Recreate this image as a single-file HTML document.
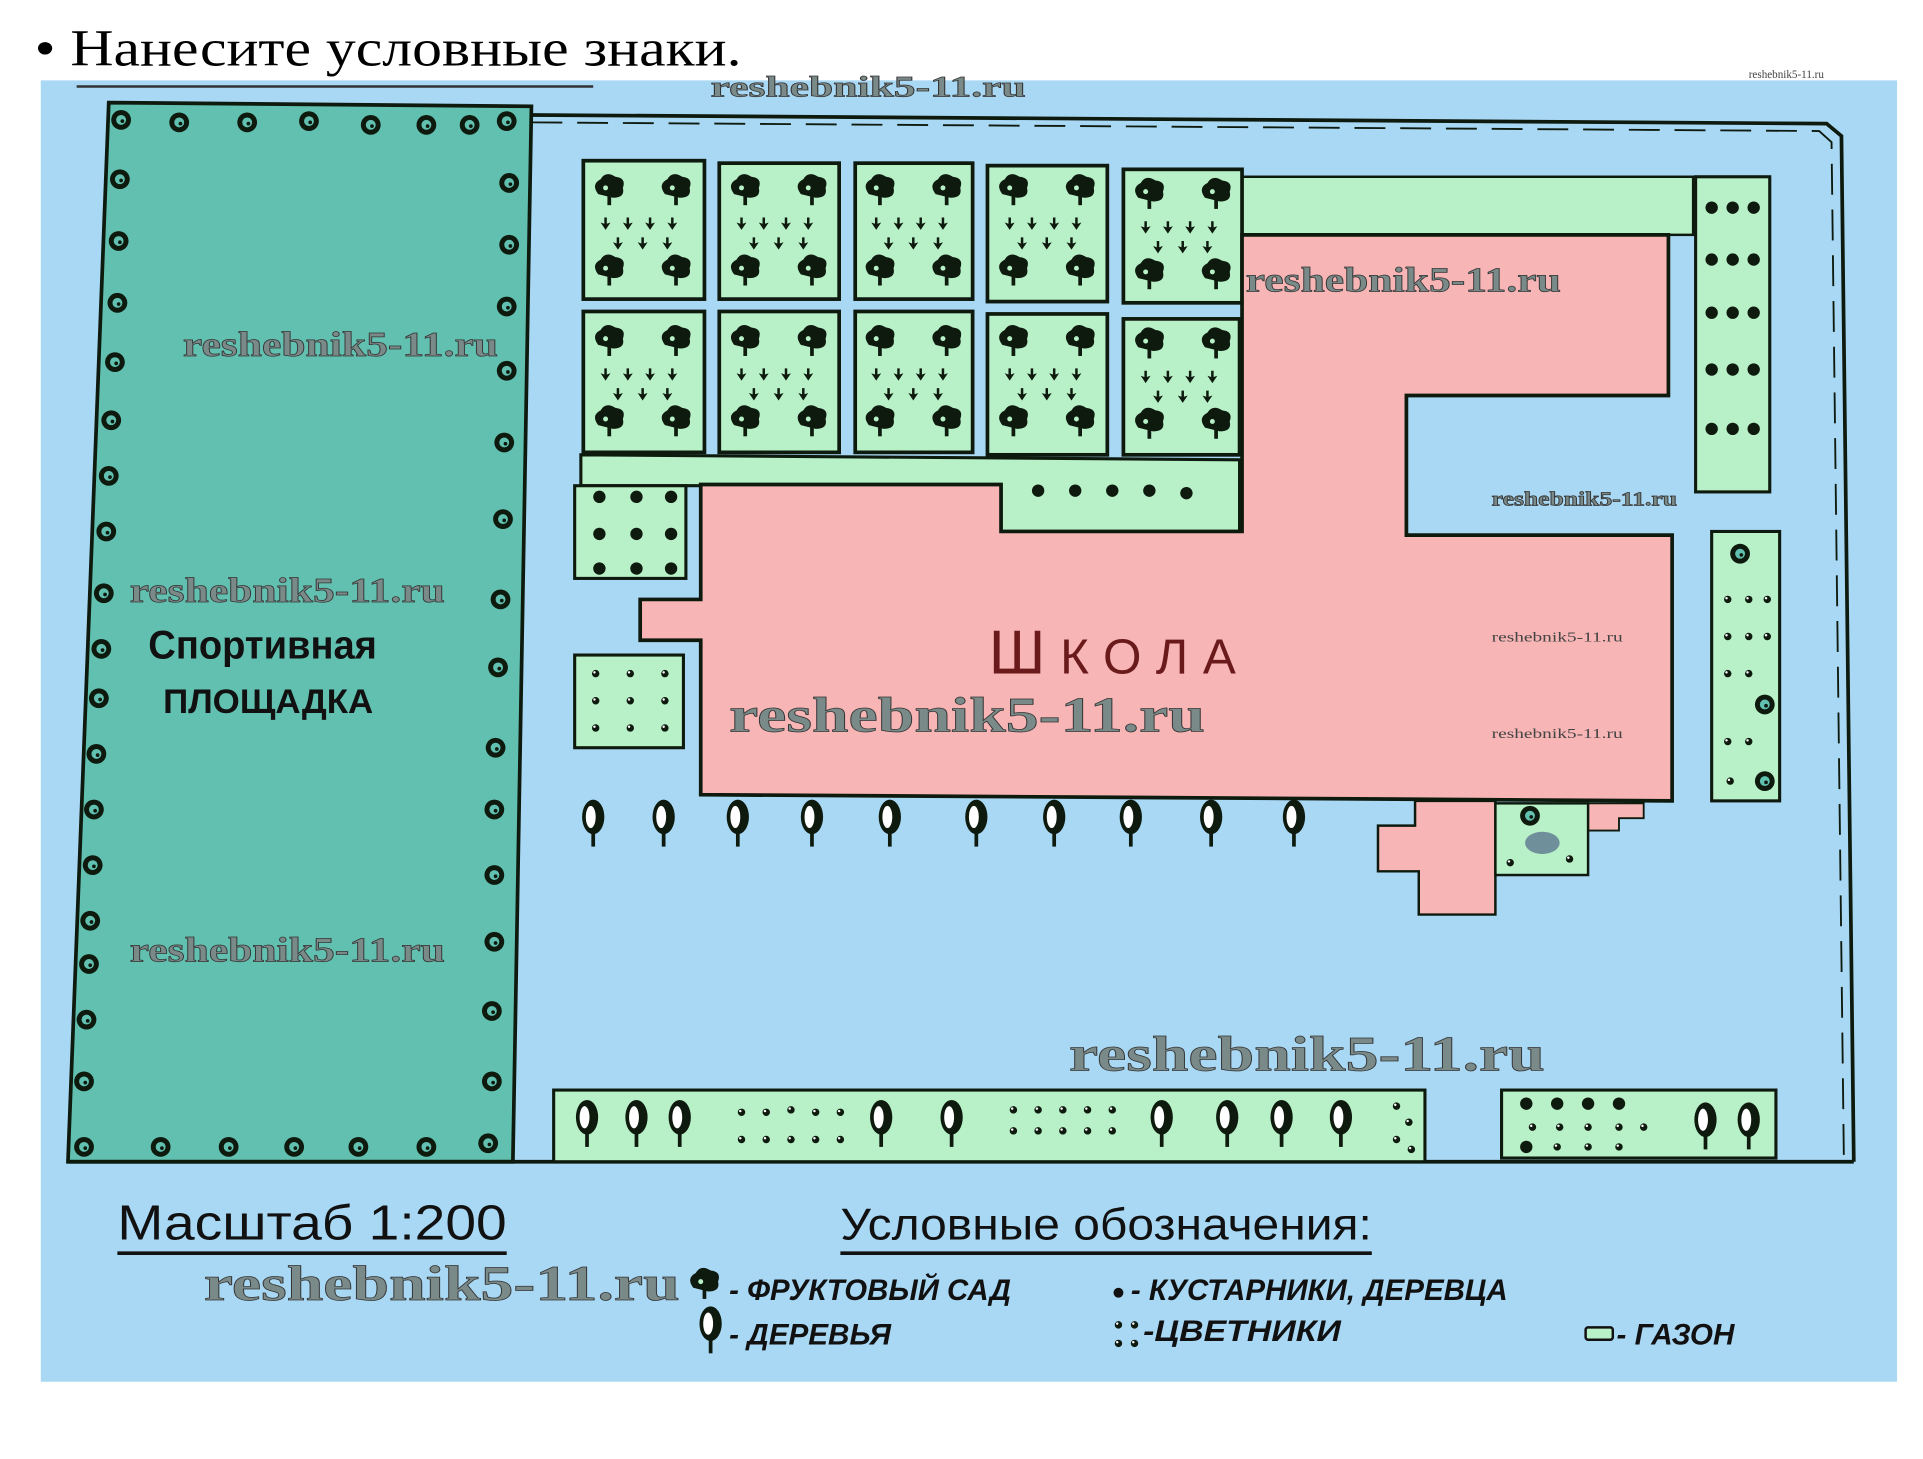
<!DOCTYPE html>
<html><head><meta charset="utf-8"><style>html,body{margin:0;padding:0;background:#fff}svg{display:block}</style></head>
<body>
<svg width="1923" height="1459" viewBox="0 0 1556 1180.5" xmlns="http://www.w3.org/2000/svg">
<defs>
<g id="ft"><path d="M-9,2 q-6,-8 2,-12 q4,-7 12,-2 q9,1 6,9 q2,8 -8,8 z" fill="#0d1a0d"/><rect x="-1.5" y="0" width="3" height="11" fill="#0d1a0d"/><circle cx="-3" cy="-3" r="2" fill="#b8f0c8"/></g>
<g id="ar"><path d="M-1,-6 h2 v5 l3,-1 l-4,6 l-4,-6 l3,1 z" fill="#0d1a0d"/></g>
<g id="tr"><ellipse cx="0" cy="-4" rx="9" ry="14" fill="#0d1a0d"/><ellipse cx="-2" cy="-4" rx="4" ry="9" fill="#fff"/><rect x="-1.5" y="8" width="3" height="12" fill="#0d1a0d"/></g>
<g id="sh"><circle r="5" fill="#0d1a0d"/></g>
<g id="bt"><circle r="8" fill="#0d1a0d"/><circle r="4" fill="#62c0b0"/><circle cx="1" cy="1" r="1.5" fill="#0d1a0d"/></g>
<g id="fl"><circle r="3" fill="#0d1a0d"/><circle cx="-1" cy="-1" r="1" fill="#fff"/></g>
</defs>
<text x="28" y="53" font-family="Liberation Serif, serif" font-size="42" textLength="572" lengthAdjust="spacingAndGlyphs">• Нанесите условные знаки.</text>
<rect x="33" y="65" width="1502" height="1053" fill="#a9d8f5"/>
<line x1="62" y1="70" x2="480" y2="70" stroke="#333" stroke-width="2"/>
<path d="M88,83 L430,86 L415,940 L55,940 Z" fill="#62c0b0" stroke="#0d1a0d" stroke-width="3"/>
<g>
<use href="#bt" x="98" y="97"/><use href="#bt" x="145" y="99"/><use href="#bt" x="200" y="99"/><use href="#bt" x="250" y="98"/><use href="#bt" x="300" y="101"/><use href="#bt" x="345" y="101"/><use href="#bt" x="380" y="101"/><use href="#bt" x="410" y="98"/>
<use href="#bt" x="97" y="145"/><use href="#bt" x="96" y="195"/><use href="#bt" x="95" y="245"/><use href="#bt" x="93" y="293"/><use href="#bt" x="90" y="340"/><use href="#bt" x="88" y="385"/><use href="#bt" x="86" y="430"/><use href="#bt" x="84" y="480"/><use href="#bt" x="82" y="525"/><use href="#bt" x="80" y="565"/><use href="#bt" x="78" y="610"/><use href="#bt" x="76" y="655"/><use href="#bt" x="75" y="700"/><use href="#bt" x="73" y="745"/><use href="#bt" x="72" y="780"/><use href="#bt" x="70" y="825"/><use href="#bt" x="68" y="875"/><use href="#bt" x="68" y="928"/>
<use href="#bt" x="412" y="148"/><use href="#bt" x="412" y="198"/><use href="#bt" x="410" y="248"/><use href="#bt" x="410" y="300"/><use href="#bt" x="408" y="358"/><use href="#bt" x="407" y="420"/><use href="#bt" x="405" y="485"/><use href="#bt" x="403" y="540"/><use href="#bt" x="401" y="605"/><use href="#bt" x="400" y="655"/><use href="#bt" x="400" y="708"/><use href="#bt" x="400" y="762"/><use href="#bt" x="398" y="818"/><use href="#bt" x="398" y="875"/><use href="#bt" x="395" y="925"/>
<use href="#bt" x="130" y="928"/><use href="#bt" x="185" y="928"/><use href="#bt" x="238" y="928"/><use href="#bt" x="290" y="928"/><use href="#bt" x="345" y="928"/>
</g>
<text x="120" y="533" font-family="Liberation Sans, sans-serif" font-size="32" font-weight="bold" fill="#111" textLength="185" lengthAdjust="spacingAndGlyphs">Спортивная</text>
<text x="132" y="577" font-family="Liberation Sans, sans-serif" font-size="28" font-weight="bold" fill="#111" textLength="170" lengthAdjust="spacingAndGlyphs">ПЛОЩАДКА</text>
<path d="M430,93 L1478,100 L1490,110 L1500,940" fill="none" stroke="#0d1a0d" stroke-width="3"/>
<path d="M430,99 L1472,106 L1482,115 L1492,940" fill="none" stroke="#0d1a0d" stroke-width="1.5" stroke-dasharray="25,12"/>
<line x1="55" y1="940" x2="1500" y2="940" stroke="#0d1a0d" stroke-width="3"/>
<rect x="1005" y="143" width="365" height="47" fill="#b8f0c8" stroke="#0d1a0d" stroke-width="2"/>
<path d="M470,368 L1003,372 L1003,430 L810,430 L810,393 L470,393 Z" fill="#b8f0c8" stroke="#0d1a0d" stroke-width="2.5"/>
<g><use href="#sh" x="840" y="397"/><use href="#sh" x="870" y="397"/><use href="#sh" x="900" y="397"/><use href="#sh" x="930" y="397"/><use href="#sh" x="960" y="399"/></g>
<rect x="1372" y="143" width="60" height="255" fill="#b8f0c8" stroke="#0d1a0d" stroke-width="2.5"/>
<g><use href="#sh" x="1385" y="168"/><use href="#sh" x="1402" y="168"/><use href="#sh" x="1419" y="168"/><use href="#sh" x="1385" y="210"/><use href="#sh" x="1402" y="210"/><use href="#sh" x="1419" y="210"/><use href="#sh" x="1385" y="253"/><use href="#sh" x="1402" y="253"/><use href="#sh" x="1419" y="253"/><use href="#sh" x="1385" y="299"/><use href="#sh" x="1402" y="299"/><use href="#sh" x="1419" y="299"/><use href="#sh" x="1385" y="347"/><use href="#sh" x="1402" y="347"/><use href="#sh" x="1419" y="347"/></g>
<rect x="1385" y="430" width="55" height="218" fill="#b8f0c8" stroke="#0d1a0d" stroke-width="2.5"/>
<g><use href="#bt" x="1408" y="448"/><use href="#fl" x="1398" y="485"/><use href="#fl" x="1415" y="485"/><use href="#fl" x="1430" y="485"/><use href="#fl" x="1398" y="515"/><use href="#fl" x="1415" y="515"/><use href="#fl" x="1430" y="515"/><use href="#fl" x="1398" y="545"/><use href="#fl" x="1415" y="545"/><use href="#bt" x="1428" y="570"/><use href="#fl" x="1398" y="600"/><use href="#fl" x="1415" y="600"/><use href="#bt" x="1428" y="632"/><use href="#fl" x="1400" y="632"/></g>
<rect x="465" y="393" width="90" height="75" fill="#b8f0c8" stroke="#0d1a0d" stroke-width="2.5"/>
<g><use href="#sh" x="485" y="402"/><use href="#sh" x="515" y="402"/><use href="#sh" x="543" y="402"/><use href="#sh" x="485" y="432"/><use href="#sh" x="515" y="432"/><use href="#sh" x="543" y="432"/><use href="#sh" x="485" y="460"/><use href="#sh" x="515" y="460"/><use href="#sh" x="543" y="460"/></g>
<rect x="465" y="530" width="88" height="75" fill="#b8f0c8" stroke="#0d1a0d" stroke-width="2.5"/>
<g><use href="#fl" x="482" y="545"/><use href="#fl" x="510" y="545"/><use href="#fl" x="538" y="545"/><use href="#fl" x="482" y="567"/><use href="#fl" x="510" y="567"/><use href="#fl" x="538" y="567"/><use href="#fl" x="482" y="589"/><use href="#fl" x="510" y="589"/><use href="#fl" x="538" y="589"/></g>
<g fill="#b8f0c8" stroke="#0d1a0d" stroke-width="3">
<rect x="472" y="130" width="98" height="112"/><rect x="582" y="132" width="97" height="110"/><rect x="692" y="132" width="95" height="110"/><rect x="799" y="134" width="97" height="110"/><rect x="909" y="137" width="96" height="108"/>
<rect x="472" y="252" width="98" height="114"/><rect x="582" y="252" width="97" height="114"/><rect x="692" y="252" width="95" height="114"/><rect x="799" y="254" width="97" height="114"/><rect x="909" y="258" width="94" height="110"/>
</g>
<g id="orc">
<use href="#ft" x="493" y="155"/><use href="#ft" x="547" y="155"/><use href="#ft" x="493" y="220"/><use href="#ft" x="547" y="220"/>
<use href="#ar" x="490" y="182"/><use href="#ar" x="508" y="182"/><use href="#ar" x="526" y="182"/><use href="#ar" x="544" y="182"/><use href="#ar" x="500" y="198"/><use href="#ar" x="520" y="198"/><use href="#ar" x="540" y="198"/>
</g>
<use href="#orc" x="110"/><use href="#orc" x="219"/><use href="#orc" x="327"/><use href="#orc" x="437" y="3"/>
<use href="#orc" y="122"/><use href="#orc" x="110" y="122"/><use href="#orc" x="219" y="122"/><use href="#orc" x="327" y="122"/><use href="#orc" x="437" y="124"/>
<path d="M567,392 L810,392 L810,430 L1005,430 L1005,190 L1350,190 L1350,320 L1138,320 L1138,433 L1353,433 L1353,648 L567,643 L567,518 L518,518 L518,485 L567,485 Z" fill="#f7b5b5" stroke="#0d1a0d" stroke-width="3"/>
<path d="M1145,648 L1210,648 L1210,740 L1148,740 L1148,705 L1115,705 L1115,668 L1145,668 Z" fill="#f7b5b5" stroke="#0d1a0d" stroke-width="2"/>
<path d="M1285,650 L1330,650 L1330,662 L1310,662 L1310,672 L1285,672 Z" fill="#f7b5b5" stroke="#0d1a0d" stroke-width="1.5"/>
<rect x="1210" y="650" width="75" height="58" fill="#b8f0c8" stroke="#0d1a0d" stroke-width="2"/>
<ellipse cx="1248" cy="682" rx="14" ry="9" fill="#6f8f9a"/>
<use href="#bt" x="1238" y="660"/><use href="#fl" x="1270" y="695"/><use href="#fl" x="1222" y="698"/>
<text x="800" y="545" font-family="Liberation Sans, sans-serif" font-size="50" fill="#6a1a1a" textLength="200" lengthAdjust="spacing">Ш<tspan font-size="40">КОЛА</tspan></text>
<g><use href="#tr" x="480" y="665"/><use href="#tr" x="537" y="665"/><use href="#tr" x="597" y="665"/><use href="#tr" x="657" y="665"/><use href="#tr" x="720" y="665"/><use href="#tr" x="790" y="665"/><use href="#tr" x="853" y="665"/><use href="#tr" x="915" y="665"/><use href="#tr" x="980" y="665"/><use href="#tr" x="1047" y="665"/></g>
<rect x="448" y="882" width="705" height="58" fill="#b8f0c8" stroke="#0d1a0d" stroke-width="2.5"/>
<g><use href="#tr" x="475" y="908"/><use href="#tr" x="515" y="908"/><use href="#tr" x="550" y="908"/><use href="#tr" x="713" y="908"/><use href="#tr" x="770" y="908"/><use href="#tr" x="940" y="908"/><use href="#tr" x="993" y="908"/><use href="#tr" x="1037" y="908"/><use href="#tr" x="1085" y="908"/>
<use href="#fl" x="600" y="900"/><use href="#fl" x="620" y="900"/><use href="#fl" x="640" y="898"/><use href="#fl" x="660" y="900"/><use href="#fl" x="680" y="900"/><use href="#fl" x="600" y="922"/><use href="#fl" x="620" y="922"/><use href="#fl" x="640" y="922"/><use href="#fl" x="660" y="922"/><use href="#fl" x="680" y="922"/>
<use href="#fl" x="820" y="898"/><use href="#fl" x="840" y="898"/><use href="#fl" x="860" y="898"/><use href="#fl" x="880" y="898"/><use href="#fl" x="900" y="898"/><use href="#fl" x="820" y="915"/><use href="#fl" x="840" y="915"/><use href="#fl" x="860" y="915"/><use href="#fl" x="880" y="915"/><use href="#fl" x="900" y="915"/>
<use href="#fl" x="1130" y="895"/><use href="#fl" x="1140" y="908"/><use href="#fl" x="1130" y="922"/><use href="#fl" x="1142" y="930"/></g>
<rect x="1215" y="882" width="222" height="55" fill="#b8f0c8" stroke="#0d1a0d" stroke-width="2.5"/>
<g><use href="#sh" x="1235" y="893"/><use href="#sh" x="1260" y="893"/><use href="#sh" x="1285" y="893"/><use href="#sh" x="1310" y="893"/><use href="#fl" x="1240" y="912"/><use href="#fl" x="1262" y="912"/><use href="#fl" x="1285" y="912"/><use href="#fl" x="1310" y="912"/><use href="#fl" x="1330" y="912"/><use href="#sh" x="1235" y="928"/><use href="#fl" x="1260" y="928"/><use href="#fl" x="1285" y="928"/><use href="#fl" x="1310" y="928"/><use href="#tr" x="1380" y="910"/><use href="#tr" x="1415" y="910"/></g>
<text x="95" y="1003" font-family="Liberation Sans, sans-serif" font-size="40" fill="#111" textLength="315" lengthAdjust="spacingAndGlyphs">Масштаб 1:200</text>
<line x1="95" y1="1014" x2="410" y2="1014" stroke="#111" stroke-width="3"/>
<text x="680" y="1003" font-family="Liberation Sans, sans-serif" font-size="36" fill="#111" textLength="430" lengthAdjust="spacingAndGlyphs">Условные обозначения:</text>
<line x1="680" y1="1014" x2="1110" y2="1014" stroke="#111" stroke-width="3"/>
<use href="#ft" x="570" y="1040"/>
<text x="590" y="1052" font-family="Liberation Sans, sans-serif" font-size="24" font-weight="bold" fill="#111" font-style="italic" textLength="228" lengthAdjust="spacingAndGlyphs">- ФРУКТОВЫЙ САД</text>
<use href="#tr" x="575" y="1075"/>
<text x="590" y="1088" font-family="Liberation Sans, sans-serif" font-size="24" font-weight="bold" fill="#111" font-style="italic">- ДЕРЕВЬЯ</text>
<circle cx="905" cy="1046" r="4" fill="#111"/>
<text x="915" y="1052" font-family="Liberation Sans, sans-serif" font-size="24" font-weight="bold" fill="#111" font-style="italic" textLength="305" lengthAdjust="spacingAndGlyphs">- КУСТАРНИКИ, ДЕРЕВЦА</text>
<use href="#fl" x="905" y="1072"/><use href="#fl" x="918" y="1072"/><use href="#fl" x="905" y="1087"/><use href="#fl" x="918" y="1087"/>
<text x="925" y="1085" font-family="Liberation Sans, sans-serif" font-size="24" font-weight="bold" fill="#111" font-style="italic" textLength="160" lengthAdjust="spacingAndGlyphs">-ЦВЕТНИКИ</text>
<rect x="1283" y="1074" width="22" height="10" rx="2" fill="#b8f0c8" stroke="#111" stroke-width="2"/>
<text x="1308" y="1088" font-family="Liberation Sans, sans-serif" font-size="24" font-weight="bold" fill="#111" font-style="italic">- ГАЗОН</text>
<g font-family="Liberation Serif, serif" font-weight="bold" fill="#7a8a88" stroke="#333" stroke-width="0.6" lengthAdjust="spacingAndGlyphs">
<text x="575" y="78" font-size="24" textLength="255" lengthAdjust="spacingAndGlyphs">reshebnik5-11.ru</text>
<text x="1008" y="236" font-size="28" textLength="255" lengthAdjust="spacingAndGlyphs">reshebnik5-11.ru</text>
<text x="148" y="288" font-size="28" textLength="255" lengthAdjust="spacingAndGlyphs">reshebnik5-11.ru</text>
<text x="105" y="487" font-size="28" textLength="255" lengthAdjust="spacingAndGlyphs">reshebnik5-11.ru</text>
<text x="105" y="778" font-size="28" textLength="255" lengthAdjust="spacingAndGlyphs">reshebnik5-11.ru</text>
<text x="590" y="592" font-size="40" textLength="385" lengthAdjust="spacingAndGlyphs">reshebnik5-11.ru</text>
<text x="865" y="866" font-size="40" textLength="385" lengthAdjust="spacingAndGlyphs">reshebnik5-11.ru</text>
<text x="165" y="1052" font-size="40" textLength="385" lengthAdjust="spacingAndGlyphs">reshebnik5-11.ru</text>
<text x="1207" y="409" font-size="16" textLength="150" lengthAdjust="spacingAndGlyphs">reshebnik5-11.ru</text>
</g>
<g font-family="Liberation Serif, serif" fill="#444">
<text x="1207" y="519" font-size="11" textLength="106" lengthAdjust="spacingAndGlyphs">reshebnik5-11.ru</text>
<text x="1207" y="597" font-size="11" textLength="106" lengthAdjust="spacingAndGlyphs">reshebnik5-11.ru</text>
<text x="1415" y="63" font-size="9">reshebnik5-11.ru</text>
</g>
</svg>
</body></html>
